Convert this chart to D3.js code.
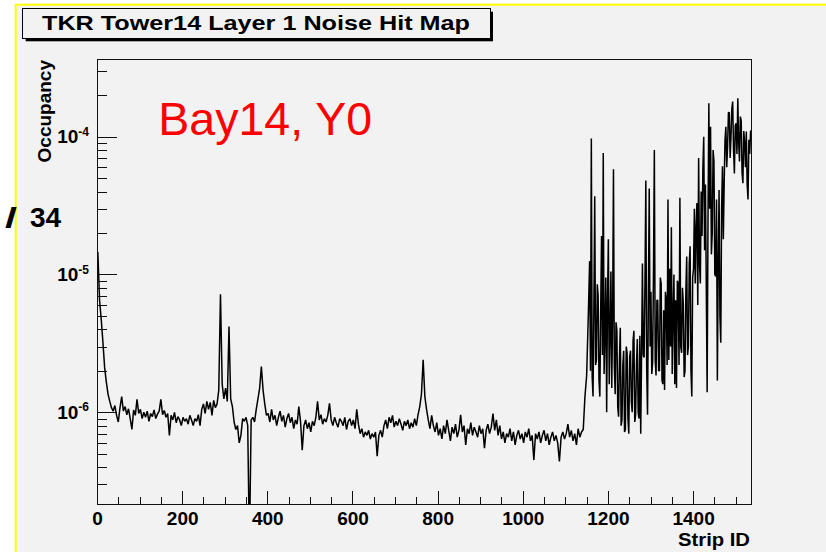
<!DOCTYPE html>
<html>
<head>
<meta charset="utf-8">
<script src="https://cdn.jsdelivr.net/npm/d3@7"></script>
<style>
  body { margin: 0; background: #fff; }
  text { font-family: "Liberation Sans", Arial, sans-serif; }
</style>
</head>
<body>
<div id="chart"></div>
<script>
// ---- data (occupancy in units of 1e-6) ----
var nStrips = 1536;

// strips 0..1155, one value per 4 strips
var coarseWidth = 4;

var decayStart = [14.5, 6.5, 4.7, 3.2, 2.1, 1.65, 1.35, 1.2, 1.08];

var baselineLow = [
  1.02, 1.12, 0.95, 0.85, 1.08, 1.30, 1.02, 1.10, 0.96, 1.06,
  0.90, 0.75, 1.04, 0.95, 1.24, 0.98, 1.05, 0.90, 1.00, 0.92,
  1.02, 0.86, 0.98, 0.93, 1.04, 0.90, 0.97, 1.02, 1.24, 0.96,
  1.03, 0.92, 0.98, 0.68, 0.95, 0.88, 1.00, 0.84, 0.93, 0.88,
  0.80, 0.92, 0.86, 0.90, 0.82, 0.95, 0.88, 0.80, 0.90, 0.86,
  0.96, 0.80, 1.05, 1.15, 0.98, 1.20, 1.05, 1.18, 0.95, 1.22,
  1.08
];

var spikeRegion = [
  1.15, 1.45, 7.2, 1.6, 1.25, 1.5, 1.2, 4.2, 1.25, 1.1,
  0.85, 0.75, 0.80, 0.60, 0.68, 0.90, 0.86, 0.92, 0.80, 0.10,
  0.88, 0.92, 0.85, 1.05, 1.25, 1.50, 2.15, 1.45, 1.15, 0.95
];

var baselineMid = [
  0.98, 0.85, 1.05, 0.88, 0.95, 0.80, 0.92, 1.02, 0.86, 0.95,
  0.78, 0.90, 0.98, 0.84, 0.92, 0.76, 0.88, 0.82, 1.10, 0.86,
  0.53, 0.80, 0.88, 0.76, 0.84, 0.72, 0.86, 0.80, 0.92, 1.20,
  0.88, 0.96, 0.82, 0.90, 0.85, 0.95, 1.16, 0.88, 0.80, 0.92,
  0.84, 0.78, 0.90, 0.86, 0.80, 0.92, 0.75, 0.86, 0.90, 0.80,
  0.88, 0.76, 1.05, 0.82, 0.70, 0.76, 0.66, 0.72, 0.68, 0.74,
  0.64, 0.70, 0.66, 0.72, 0.48, 0.68, 0.74, 0.66, 0.80, 0.88,
  0.76, 0.92, 0.84, 0.95, 0.78, 0.86, 0.80, 0.90, 0.82, 0.74,
  0.86, 0.80, 0.88, 0.76, 0.84, 0.78, 0.90, 0.80, 0.96, 1.10,
  1.35, 2.40, 1.30, 1.05, 0.88, 0.76, 0.95, 0.80
];

var baselineHigh = [
  0.72, 0.84, 0.68, 0.76, 0.64, 0.80, 0.70, 0.88, 0.74, 0.62,
  0.78, 0.70, 0.82, 0.66, 0.74, 0.96, 0.72, 0.80, 0.58, 0.76,
  0.70, 0.84, 0.68, 0.78, 0.72, 0.66, 0.80, 0.70, 0.76, 0.55,
  0.74, 0.82, 0.70, 0.78, 0.98, 0.74, 0.88, 0.68, 0.80, 0.64,
  0.72, 0.60, 0.70, 0.66, 0.76, 0.62, 0.72, 0.58, 0.68, 0.74,
  0.64, 0.70, 0.60, 0.72, 0.66, 0.76, 0.62, 0.68, 0.45, 0.70,
  0.64, 0.72, 0.60, 0.68, 0.74, 0.62, 0.70, 0.58, 0.66, 0.72,
  0.62, 0.68, 0.60, 0.44, 0.66, 0.72, 0.64, 0.70, 0.82, 0.66,
  0.74, 0.62, 0.70, 0.58, 0.76, 0.66, 0.72, 0.75, 1.3, 1.85,
  5.2
];

// strips 1156..1535, one value per 2 strips (the noisy part)
var fineWidth = 2;

var noisyTail = [
  12.5, 2.0, 97, 1.8, 1.3, 6.0, 37, 2.2, 2.4, 8.5,
  7.0, 1.7, 1.3, 5.5, 19, 2.6, 76, 1.9, 3.7, 9.5,
  1.0, 6.5, 18, 1.6, 3.7, 10.5, 1.5, 5.0, 58, 2.2,
  1.35, 4.5, 3.9, 1.1, 0.93, 2.4, 4.1, 0.8, 0.88, 2.2,
  2.8, 0.72, 0.75, 3.0, 2.7, 0.9, 0.7, 2.5, 2.8, 1.2,
  1.0, 3.3, 3.9, 0.85, 0.95, 2.2, 3.4, 1.0, 0.9, 3.6,
  0.7, 2.6, 12, 2.6, 2.5, 9, 48, 2.1, 0.96, 7,
  42, 3.0, 7.5, 1.9, 2.3, 11, 80, 2.4, 1.85, 6.5,
  6.5, 2.0, 2.0, 9.5, 8.6, 1.7, 1.6, 5.5, 1.45, 7.5,
  6.5, 2.2, 35, 2.4, 11, 3.0, 22, 1.9, 5.0, 10,
  1.6, 6.5, 1.5, 9, 8.6, 2.2, 36, 3.0, 2.7, 8,
  6.2, 1.8, 2.0, 7.5, 13.5, 2.6, 3.0, 12, 16, 2.0,
  1.3, 9.5, 11, 30, 8.6, 22, 33, 6, 70, 12,
  8.6, 40, 19, 60, 100, 15, 45, 8, 1.4, 25,
  175, 30, 118, 14, 20, 80, 66, 10, 9.7, 35,
  1.7, 12, 41, 5, 3.2, 30, 61, 18, 46, 95,
  118, 60, 85, 150, 150, 70, 100, 160, 180, 80,
  54, 120, 125, 75, 190, 90, 66, 140, 130, 55,
  46, 110, 92, 60, 109, 45, 35, 95, 75, 110
];

var coarseValues = [].concat(decayStart, baselineLow, spikeRegion, baselineMid, baselineHigh);

var xTickValues = [0, 200, 400, 600, 800, 1000, 1200, 1400];
var yDecades = [-6, -5, -4];

var titleText = "TKR Tower14 Layer 1 Noise Hit Map";
var noteText = "Bay14, Y0";

// ---- layout ----
var width = 826, height = 552;
var frame = { left: 97, right: 751, top: 59.3, bottom: 504 };

var svg = d3.select("#chart").append("svg")
  .attr("width", width)
  .attr("height", height);

// canvas with the yellow border
svg.append("rect")
  .attr("x", 15.7).attr("y", 4.7)
  .attr("width", 900).attr("height", 700)
  .style("fill", "#f2f2f2")
  .style("stroke", "#ffff00")
  .style("stroke-width", 2);

var x = d3.scaleLinear().domain([0, nStrips]).range([frame.left, frame.right]);
var y = d3.scaleLog().domain([2.16e-7, 3.645e-4]).range([frame.bottom, frame.top]);

svg.append("clipPath").attr("id", "plotClip")
  .append("rect")
  .attr("x", frame.left).attr("y", frame.top)
  .attr("width", frame.right - frame.left)
  .attr("height", frame.bottom - frame.top);

// bin centres -> points
var points = coarseValues.map(function (v, i) {
  return [i * coarseWidth + coarseWidth / 2, v * 1e-6];
});
var fineStart = coarseValues.length * coarseWidth;
noisyTail.forEach(function (v, i) {
  points.push([fineStart + i * fineWidth + fineWidth / 2, v * 1e-6]);
});
// hold the end values out to the frame edges
points.unshift([0, coarseValues[0] * 1e-6]);
points.push([nStrips, noisyTail[noisyTail.length - 1] * 1e-6]);

var line = d3.line()
  .x(function (d) { return x(d[0]); })
  .y(function (d) { return y(d[1]); });

svg.append("path")
  .datum(points)
  .attr("clip-path", "url(#plotClip)")
  .attr("d", line)
  .style("fill", "none")
  .style("stroke", "#000")
  .style("stroke-width", 1.5)
  .style("stroke-linejoin", "bevel");

// frame box
svg.append("rect")
  .attr("x", frame.left).attr("y", frame.top)
  .attr("width", frame.right - frame.left)
  .attr("height", frame.bottom - frame.top)
  .style("fill", "none")
  .style("stroke", "#111")
  .style("stroke-width", 1)
  .style("shape-rendering", "crispEdges");

// x axis: major ticks with labels, minor ticks every 50
var xMinor = d3.range(0, nStrips + 1, 50).filter(function (v) { return v % 200 !== 0; });

var xAxisMajor = svg.append("g")
  .attr("transform", "translate(0," + frame.bottom + ")")
  .call(d3.axisBottom(x).tickValues(xTickValues).tickSize(-13).tickPadding(8)
    .tickSizeOuter(0).tickFormat(d3.format("d")));
var xAxisMinor = svg.append("g")
  .attr("transform", "translate(0," + frame.bottom + ")")
  .call(d3.axisBottom(x).tickValues(xMinor).tickSize(-7).tickFormat("").tickSizeOuter(0));

xAxisMajor.selectAll("text")
  .style("font-family", "'Liberation Sans', Arial, sans-serif")
  .style("font-weight", "bold")
  .style("font-size", "19px")
  .style("fill", "#000");

// y axis: decades major, 2..9 minor (from the log scale's own ticks)
var yMajor = yDecades.map(function (e) { return Math.pow(10, e); });
var yMinor = y.ticks().filter(function (v) {
  return Math.abs(Math.log10(v) - Math.round(Math.log10(v))) > 1e-6;
});

var yAxisMajor = svg.append("g")
  .attr("transform", "translate(" + frame.left + ",0)")
  .call(d3.axisRight(y).tickValues(yMajor).tickSize(20).tickFormat("").tickSizeOuter(0));
var yAxisMinor = svg.append("g")
  .attr("transform", "translate(" + frame.left + ",0)")
  .call(d3.axisRight(y).tickValues(yMinor).tickSize(10).tickFormat("").tickSizeOuter(0));

[xAxisMajor, xAxisMinor, yAxisMajor, yAxisMinor].forEach(function (g) {
  g.select(".domain").remove();
  g.selectAll("line")
    .style("stroke", "#111")
    .style("shape-rendering", "crispEdges");
});

// y tick labels 10^n with superscript
var yLabels = svg.selectAll("text.ylab")
  .data(yDecades)
  .enter().append("text")
  .attr("class", "ylab")
  .attr("x", 89)
  .attr("y", function (e) { return y(Math.pow(10, e)) + 6.6; })
  .attr("text-anchor", "end")
  .style("font-weight", "bold")
  .style("font-size", "19px");
yLabels.append("tspan").text("10");
yLabels.append("tspan")
  .attr("dy", -7.5)
  .style("font-size", "12px")
  .text(function (e) { return String(e); });

// axis titles
svg.append("text")
  .attr("transform", "translate(51,60) rotate(-90)")
  .attr("text-anchor", "end")
  .style("font-weight", "bold")
  .style("font-size", "19px")
  .text("Occupancy");

svg.append("text")
  .attr("x", 750).attr("y", 546)
  .attr("text-anchor", "end")
  .attr("textLength", 72)
  .attr("lengthAdjust", "spacingAndGlyphs")
  .style("font-weight", "bold")
  .style("font-size", "19px")
  .text("Strip ID");

// title box with shadow
var titleBox = { x: 22.7, y: 8.7, w: 467.3, h: 29.6 };
svg.append("rect")
  .attr("x", titleBox.x + 3).attr("y", titleBox.y + 3)
  .attr("width", titleBox.w).attr("height", titleBox.h)
  .style("fill", "#000");
svg.append("rect")
  .attr("x", titleBox.x).attr("y", titleBox.y)
  .attr("width", titleBox.w).attr("height", titleBox.h)
  .style("fill", "#f2f2f2")
  .style("stroke", "#000")
  .style("stroke-width", 1)
  .style("shape-rendering", "crispEdges");
svg.append("text")
  .attr("x", 42).attr("y", 30)
  .attr("textLength", 428)
  .attr("lengthAdjust", "spacingAndGlyphs")
  .style("font-weight", "bold")
  .style("font-size", "21px")
  .text(titleText);

// red annotation
svg.append("text")
  .attr("x", 158.3).attr("y", 135)
  .style("font-size", "46.5px")
  .style("fill", "#ff0000")
  .text(noteText);

// leftover label at the left edge
svg.append("text")
  .attr("x", 5).attr("y", 226.7)
  .attr("textLength", 12)
  .attr("lengthAdjust", "spacingAndGlyphs")
  .style("font-weight", "bold")
  .style("font-size", "28px")
  .text("/");
svg.append("text")
  .attr("x", 30).attr("y", 226.7)
  .style("font-weight", "bold")
  .style("font-size", "28px")
  .text("34");
</script>
</body>
</html>
